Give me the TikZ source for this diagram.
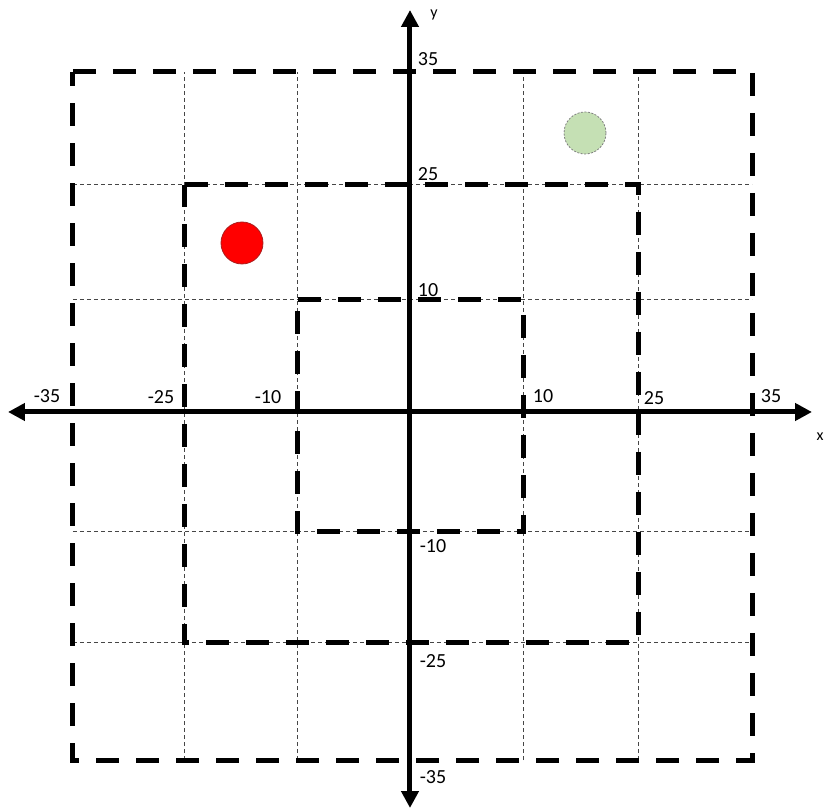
\documentclass[tikz,border=0pt]{standalone}
\usepackage{fontspec}
\setmainfont{Carlito}
\usepackage{tikz}
\usetikzlibrary{arrows.meta,positioning}
\definecolor{ptRed}{RGB}{255,0,0}
\definecolor{ptRedEdge}{RGB}{170,30,30}
\definecolor{ptGreen}{RGB}{197,224,180}
\definecolor{gridGray}{RGB}{70,70,70}

\tikzset{
  gridline/.style={gridGray, line width=1pt, dash pattern=on 4pt off 3pt},
  zone/.style={black, line width=5pt, dash pattern=on 23pt off 17pt},
  axis/.style={black, line width=5pt, {Triangle[length=17pt,width=17pt]}-{Triangle[length=17pt,width=17pt]}},
  tick/.style={font=\fontsize{20}{23}\selectfont, inner sep=0pt},
  axisname/.style={font=\fontsize{16}{18}\selectfont, inner sep=0pt},
}

\begin{document}
\begin{tikzpicture}[x=1pt,y=1pt]
\useasboundingbox (-410,-398) rectangle (417,412);

% grid
\foreach \gx in {-225,-112,113,228}
  \draw[gridline] (\gx,-348) -- (\gx,340);
\foreach \gy in {227,112,-120,-231}
  \draw[gridline] (-337,\gy) -- (342,\gy);

% zones
\draw[zone] (-337,340) -- (342,340) -- (342,-348) -- (-337,-348) -- cycle;
\draw[zone] (-225,227) -- (228,227) -- (228,-231) -- (-225,-231) -- cycle;
\draw[zone] (-112,112) -- (113,112) -- (113,-120) -- (-112,-120) -- cycle;

% axes
\coordinate (xl) at (-402,0);
\coordinate (xr) at (402,0);
\coordinate (yt) at (0,402);
\coordinate (yb) at (0,-396);
\draw[axis] (xl) -- (xr);
\draw[axis] (yb) -- (yt);

% points
\fill[ptRed, draw=ptRedEdge, line width=0.8pt] (-168,169) circle (21);
\fill[ptGreen, draw=gray, line width=0.8pt, dash pattern=on 2pt off 1.5pt] (175,279) circle (21);

% x labels
\node[tick] (xm35) at (-363,16) {-35};
\node[tick] (xm25) at (-249,15) {-25};
\node[tick] (xm10) at (-142,15) {-10};
\node[tick] (xp10) at (133,16) {10};
\node[tick] (xp25) at (244,14) {25};
\node[tick] (xp35) at (361,16) {35};
\node[axisname] (xname) at (410,-25) {x};

% y labels
\node[axisname] (yname) at (24,397) {y};
\node[tick] (yp35) at (18,353) {35};
\node[tick] (yp25) at (18,238) {25};
\node[tick] (yp10) at (18,122) {10};
\node[tick] (ym10) at (23,-134) {-10};
\node[tick] (ym25) at (23,-249) {-25};
\node[tick] (ym35) at (23,-365) {-35};
\end{tikzpicture}
\end{document}
